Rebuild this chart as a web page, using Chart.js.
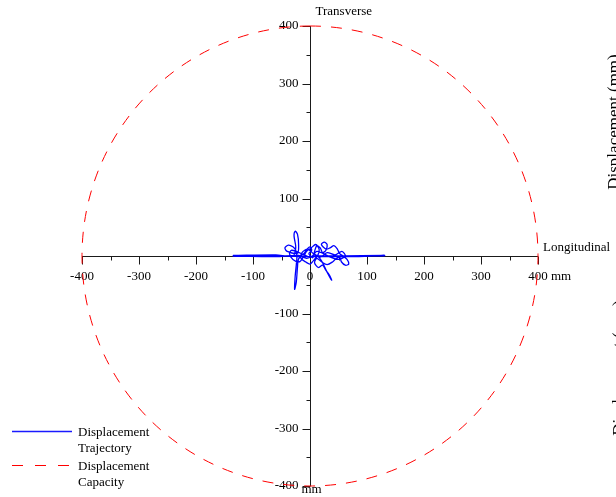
<!DOCTYPE html>
<html>
<head>
<meta charset="utf-8">
<script src="https://cdn.jsdelivr.net/npm/chart.js@4.4.0/dist/chart.umd.min.js"></script>
<style>
  html, body { margin: 0; padding: 0; background: #fff; overflow: hidden; }
  canvas { display: block; }
</style>
</head>
<body>
<canvas id="polar" width="616" height="497" style="width:616px;height:497px"></canvas>
<script>
/* Displacement trajectory vs capacity (plan view) */

const xTickValues = [-400, -300, -200, -100, 0, 100, 200, 300, 400];
const xTickLabels = ['-400', '-300', '-200', '-100', '0', '100', '200', '300', '400'];
const yTickValues = [-400, -300, -200, -100, 100, 200, 300, 400];
const yTickLabels = ['-400', '-300', '-200', '-100', '100', '200', '300', '400'];
const minorTicks = [-350, -250, -150, -50, 50, 150, 250, 350];

const capacityRadius = 400;

// trajectory in mm: longitudinal (x) / transverse (y)
const trajX = [-135, -60, -30, -25, -28, -26, -22, -20, -22, -40, -44, -38, -30, -25, -23, -24, -26, -27, -24, -22,
  -20, -10, -5, 0, 3, -2, 5, 8, 12, 18, 22, 28, 30, 25, 20, 28, 35, 42, 48, 52, 58, 65, 68, 62, 55, 52, 45, 40,
  30, 20, 12, 8, 15, 22, 28, 34, 38, 30, 20, 10, 0, -10, -32, -36, -30, -18, -12, -6, 2, 10, 16, 14, 6, 0,
  -8, -16, -14, -4, 6, 18, 30, 44, 56, 62, 50, 36, 24, 12, 4, -6, -20, -60, -135, -70, 0, 60, 131, 70, 10, 131];
const trajY = [1, 2, 0, 15, 35, 43, 38, 20, 5, 8, 14, 19, 16, 10, 0, -15, -35, -58, -45, -20,
  -5, 5, 12, 16, 10, 4, -3, 8, 18, 14, 6, 10, 20, 24, 20, 12, 14, 18, 12, 4, 0, -6, -14, -16, -10, -2, -5, -10,
  -15, -10, -4, -12, -20, -16, -25, -33, -42, -28, -8, 2, -2, 2, 10, 4, -6, -10, -2, 8, 14, 20, 12, 2, -8, -14,
  -10, -4, 6, 12, 4, -2, 6, 2, 8, 0, -6, -2, 4, 8, 0, -4, 1, -1, 0, 1, -1, 0, 1, -1, 0, 0];

const FONT = '13px "Liberation Serif", "Times New Roman", serif';

const axesPlugin = {
  id: 'centerAxes',
  beforeDatasetsDraw(chart) {
    const ctx = chart.ctx, xs = chart.scales.x, ys = chart.scales.y;
    const cx = Math.round(xs.getPixelForValue(0)) + 0.5;
    const cy = Math.round(ys.getPixelForValue(0)) + 0.5;
    ctx.save();
    ctx.strokeStyle = '#1a1a1a';
    ctx.lineWidth = 1;
    ctx.beginPath();
    ctx.moveTo(xs.getPixelForValue(-400), cy);
    ctx.lineTo(xs.getPixelForValue(400), cy);
    ctx.moveTo(cx, ys.getPixelForValue(400));
    ctx.lineTo(cx, ys.getPixelForValue(-400));
    // major ticks
    xTickValues.forEach(v => {
      const px = Math.round(xs.getPixelForValue(v)) + 0.5;
      ctx.moveTo(px, cy); ctx.lineTo(px, cy + 8);
    });
    yTickValues.forEach(v => {
      const py = Math.round(ys.getPixelForValue(v)) + 0.5;
      ctx.moveTo(cx, py); ctx.lineTo(cx - 8, py);
    });
    // minor ticks
    minorTicks.forEach(v => {
      const px = Math.round(xs.getPixelForValue(v)) + 0.5;
      ctx.moveTo(px, cy); ctx.lineTo(px, cy + 4);
      const py = Math.round(ys.getPixelForValue(v)) + 0.5;
      ctx.moveTo(cx, py); ctx.lineTo(cx - 4, py);
    });
    ctx.stroke();

    ctx.fillStyle = '#000';
    ctx.font = FONT;
    ctx.textAlign = 'center';
    ctx.textBaseline = 'alphabetic';
    xTickValues.forEach((v, i) => ctx.fillText(xTickLabels[i], xs.getPixelForValue(v), cy + 23));
    ctx.textAlign = 'right';
    ctx.textBaseline = 'middle';
    yTickValues.forEach((v, i) => ctx.fillText(yTickLabels[i], cx - 12, ys.getPixelForValue(v)));

    ctx.textAlign = 'left';
    ctx.textBaseline = 'alphabetic';
    ctx.fillText('mm', xs.getPixelForValue(400) + 13, cy + 23);
    ctx.fillText('mm', cx - 9, ys.getPixelForValue(-400) + 7);
    ctx.fillText('Longitudinal', xs.getPixelForValue(400) + 5, cy - 6);
    ctx.fillText('Transverse', cx + 5, ys.getPixelForValue(400) - 11);
    ctx.restore();
  },
  afterDatasetsDraw(chart) {
    const ctx = chart.ctx, xs = chart.scales.x, ys = chart.scales.y;
    const cx = xs.getPixelForValue(0), cy = ys.getPixelForValue(0);
    const rx = xs.getPixelForValue(capacityRadius) - cx;
    const ry = cy - ys.getPixelForValue(capacityRadius);
    ctx.save();
    ctx.strokeStyle = '#ff0000';
    ctx.lineWidth = 1;
    ctx.setLineDash([11, 10]);
    ctx.beginPath();
    ctx.ellipse(cx, cy, rx, ry, 0, -Math.PI / 2, Math.PI * 1.5);
    ctx.stroke();

    // legend
    ctx.setLineDash([]);
    ctx.strokeStyle = '#1a1aff';
    ctx.lineWidth = 1.5;
    ctx.beginPath();
    ctx.moveTo(12, 431.5); ctx.lineTo(72, 431.5);
    ctx.stroke();
    ctx.strokeStyle = '#ff0000';
    ctx.lineWidth = 1;
    ctx.setLineDash([11, 12]);
    ctx.beginPath();
    ctx.moveTo(12, 465.5); ctx.lineTo(72, 465.5);
    ctx.stroke();
    ctx.setLineDash([]);
    ctx.fillStyle = '#000';
    ctx.font = FONT;
    ctx.textAlign = 'left';
    ctx.textBaseline = 'alphabetic';
    ctx.fillText('Displacement', 78, 436);
    ctx.fillText('Trajectory', 78, 452);
    ctx.fillText('Displacement', 78, 470);
    ctx.fillText('Capacity', 78, 486);

    // clipped axis titles of the neighbouring panel
    ctx.font = '17px "Liberation Serif", "Times New Roman", serif';
    ctx.textAlign = 'center';
    ctx.save();
    ctx.translate(619, 122);
    ctx.rotate(-Math.PI / 2);
    ctx.fillText('Displacement (mm)', 0, 0);
    ctx.restore();
    ctx.save();
    ctx.translate(624, 368);
    ctx.rotate(-Math.PI / 2);
    ctx.fillText('Displacement (mm)', 0, 0);
    ctx.restore();
    ctx.restore();
  }
};

const points = trajX.map((x, i) => ({ x, y: trajY[i] }));

new Chart(document.getElementById('polar'), {
  type: 'scatter',
  data: {
    datasets: [{
      label: 'Displacement Trajectory',
      data: points,
      showLine: true,
      borderColor: '#0000ff',
      borderWidth: 1.3,
      pointRadius: 0,
      tension: 0.3,
      fill: false
    }]
  },
  options: {
    responsive: false,
    animation: false,
    devicePixelRatio: 1,
    layout: { padding: { left: 82, right: 78, top: 26, bottom: 11 } },
    plugins: { legend: { display: false }, tooltip: { enabled: false } },
    scales: {
      x: { type: 'linear', min: -400, max: 400, display: false },
      y: { type: 'linear', min: -400, max: 400, display: false }
    }
  },
  plugins: [axesPlugin]
});
</script>
</body>
</html>
